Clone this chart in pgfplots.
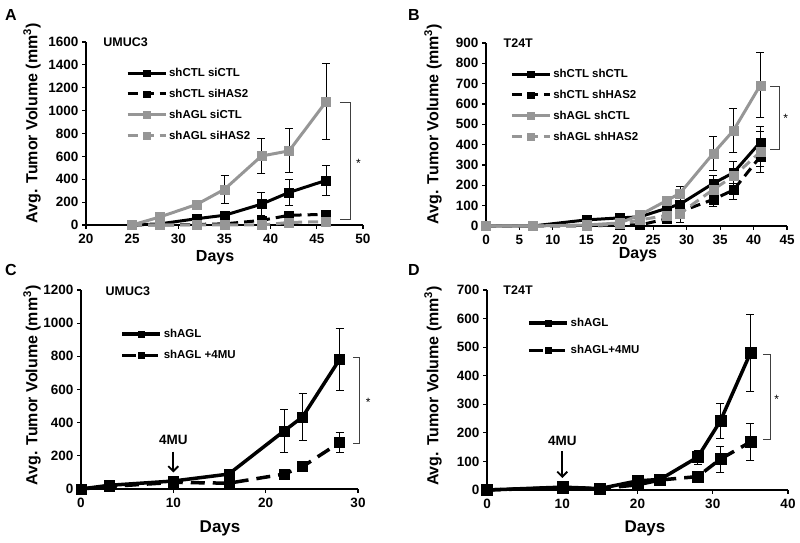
\documentclass[border=0pt]{standalone}
\usepackage{fontspec}
\setmainfont{Liberation Sans}
\usepackage{pgfplots}
\pgfplotsset{compat=1.18}
\usetikzlibrary{arrows.meta}
\definecolor{mygray}{RGB}{150,150,150}

\pgfplotsset{
 panel/.style={scale only axis, anchor=south west,
   axis x line*=bottom, axis y line*=left,
   axis line style={-, line width=1.4pt},
   tick align=outside, major tick length=4pt,
   tick style={line width=1.2pt, black},
   clip=false,
   tick label style={font=\fontsize{13.5}{15}\selectfont\bfseries},
   xticklabel style={yshift=-2pt},
   /pgf/number format/assume math mode=true,
   /pgf/number format/1000 sep={},
   scaled ticks=false,
   label style={font=\fontsize{16}{18}\selectfont\bfseries},
   ylabel={Avg. Tumor Volume (mm\textsuperscript{3})},
   xlabel={Days},
   legend cell align=left,
   legend style={draw=none, fill=none, anchor=north west, inner sep=0pt,
     font=\fontsize{11.5}{13}\selectfont\bfseries, row sep=7pt},
   legend image code/.code={\draw[mark repeat=2, mark phase=2, ##1, mark size=3.2pt] plot coordinates {(0pt,0pt) (19pt,0pt) (38pt,0pt)};},
 },
 eb/.style={error bars/y dir=both, error bars/y explicit,
     error bars/error bar style={line width=0.9pt, black, solid},
     error bars/error mark options={rotate=90, mark size=4pt, line width=0.9pt, black, solid}},
 sq/.style={mark=square*, mark options={solid, line width=0.4pt, line join=miter}},
 bs/.style={eb, black, line width=3pt, line join=round, sq, mark size=4.5pt},
 bd/.style={bs, dash pattern=on 10pt off 6pt},
 gs/.style={eb, mygray, line width=3pt, line join=round, sq, mark size=4.5pt},
 gd/.style={gs, dash pattern=on 10pt off 6pt},
}

\begin{document}
\begin{tikzpicture}[x=1pt,y=1pt]
\useasboundingbox (0,0) rectangle (800,543);

% Panel letters
\node[font=\fontsize{16}{18}\selectfont\bfseries] at (11,528) {A};
\node[font=\fontsize{16}{18}\selectfont\bfseries] at (414,528) {B};
\node[font=\fontsize{16}{18}\selectfont\bfseries] at (11,273) {C};
\node[font=\fontsize{16}{18}\selectfont\bfseries] at (414,273) {D};

% ---------------- A ----------------
\begin{axis}[panel, at={(86pt,318pt)}, width=277pt, height=183pt,
  xmin=20, xmax=50, ymin=0, ymax=1600,
  xtick={20,25,...,50}, ytick={0,200,...,1600},
  xlabel style={at={(axis description cs:0.466,-0.18)}, anchor=center},
  ylabel style={at={(axis description cs:-0.195,0.555)}, anchor=center},
  legend style={at={(axis description cs:0.144,0.869)}}]
\addplot[bs] coordinates {(25,0) +- (0,0) (28,10) +- (0,0) (32,55) +- (0,0) (35,85) +- (0,0) (39,182) +- (0,100) (42,285) +- (0,117) (46,390) +- (0,132)};
\addlegendentry{shCTL siCTL}
\addplot[bd] coordinates {(25,0) +- (0,0) (28,0) +- (0,0) (32,5) +- (0,0) (35,10) +- (0,0) (39,40) +- (0,0) (42,85) +- (0,0) (46,93) +- (0,0)};
\addlegendentry{shCTL siHAS2}
\addplot[gs] coordinates {(25,0) +- (0,0) (28,70) +- (0,0) (32,180) +- (0,0) (35,312) +- (0,123) (39,603) +- (0,152) (42,648) +- (0,192) (46,1078) +- (0,332)};
\addlegendentry{shAGL siCTL}
\addplot[gd] coordinates {(25,0) +- (0,0) (28,0) +- (0,0) (32,0) +- (0,0) (35,0) +- (0,0) (39,0) +- (0,0) (42,22) +- (0,0) (46,30) +- (0,0)};
\addlegendentry{shAGL siHAS2}
\node[anchor=west, font=\fontsize{12.5}{14}\selectfont\bfseries] at (axis description cs:0.05,1.0) {UMUC3};
\draw[line width=0.8pt, black!75] (axis cs:47.5,1070) -- (axis cs:48.6,1070) -- (axis cs:48.6,45) -- (axis cs:47.5,45);
\node[font=\fontsize{12}{14}\selectfont] at (axis cs:49.5,540) {*};
\end{axis}

% ---------------- B ----------------
\begin{axis}[panel, at={(486pt,317pt)}, width=301pt, height=183pt,
  xmin=0, xmax=45, ymin=0, ymax=900,
  xtick={0,5,...,45}, ytick={0,100,...,900},
  xlabel style={at={(axis description cs:0.505,-0.158)}, anchor=center},
  ylabel style={at={(axis description cs:-0.176,0.557)}, anchor=center},
  legend style={at={(axis description cs:0.08,0.869)}}]
\addplot[bs] coordinates {(0,0) +- (0,0) (7,0) +- (0,0) (15,30) +- (0,0) (20,40) +- (0,0) (23,45) +- (0,0) (27,87) +- (0,0) (29,107) +- (0,88) (34,210) +- (0,40) (37,262) +- (0,55) (41,412) +- (0,80)};
\addlegendentry{shCTL shCTL}
\addplot[bd] coordinates {(0,0) +- (0,0) (7,0) +- (0,0) (15,0) +- (0,0) (20,5) +- (0,0) (23,5) +- (0,0) (27,35) +- (0,0) (29,70) +- (0,0) (34,131) +- (0,36) (37,177) +- (0,45) (41,341) +- (0,50)};
\addlegendentry{shCTL shHAS2}
\addplot[gs] coordinates {(0,0) +- (0,0) (7,0) +- (0,0) (15,5) +- (0,0) (20,15) +- (0,0) (23,54) +- (0,0) (27,125) +- (0,0) (29,161) +- (0,0) (34,358) +- (0,83) (37,470) +- (0,107) (41,692) +- (0,160)};
\addlegendentry{shAGL shCTL}
\addplot[gd] coordinates {(0,0) +- (0,0) (7,0) +- (0,0) (15,0) +- (0,0) (20,10) +- (0,0) (23,30) +- (0,0) (27,52) +- (0,0) (29,62) +- (0,0) (34,180) +- (0,0) (37,245) +- (0,0) (41,363) +- (0,100)};
\addlegendentry{shAGL shHAS2}
\node[anchor=west, font=\fontsize{12.5}{14}\selectfont\bfseries] at (axis description cs:0.047,1.0) {T24T};
\draw[line width=0.8pt, black!75] (axis cs:42.5,687) -- (axis cs:43.8,687) -- (axis cs:43.8,376) -- (axis cs:42.5,376);
\node[font=\fontsize{12}{14}\selectfont] at (axis cs:44.8,530) {*};
\end{axis}

% ---------------- C ----------------
\begin{axis}[panel, at={(81pt,54pt)}, width=277pt, height=199pt,
  xmin=0, xmax=30, ymin=0, ymax=1200,
  xtick={0,10,20,30}, ytick={0,200,...,1200},
  label style={font=\fontsize{17}{19}\selectfont\bfseries},
  xlabel style={at={(axis description cs:0.502,-0.196)}, anchor=center},
  ylabel style={at={(axis description cs:-0.177,0.52)}, anchor=center, font=\fontsize{16}{18}\selectfont\bfseries},
  legend style={at={(axis description cs:0.141,0.814)}, row sep=7.5pt}]
\addplot[bs, line width=3.5pt, mark size=5pt] coordinates {(0,0) +- (0,0) (3,22) +- (0,0) (10,48) +- (0,0) (16,90) +- (0,0) (22,350) +- (0,130) (24,435) +- (0,140) (28,781) +- (0,188)};
\addlegendentry{shAGL}
\addplot[bs, line width=3.5pt, mark size=5pt, dash pattern=on 14pt off 8pt] coordinates {(0,0) +- (0,0) (3,15) +- (0,0) (10,40) +- (0,0) (16,35) +- (0,0) (22,90) +- (0,0) (24,135) +- (0,0) (28,280) +- (0,62)};
\addlegendentry{shAGL +4MU}
\node[anchor=west, font=\fontsize{12.5}{14}\selectfont\bfseries] at (axis description cs:0.076,0.995) {UMUC3};
\node[font=\fontsize{13.5}{15}\selectfont\bfseries] at (axis cs:10,295) {4MU};
\draw[line width=1.8pt, -{Straight Barb[length=5pt,width=10pt]}] (axis cs:10,225) -- (axis cs:10,100);
\draw[line width=0.8pt, black!75] (axis cs:29.5,795) -- (axis cs:30.2,795) -- (axis cs:30.2,277) -- (axis cs:29.5,277);
\node[font=\fontsize{12}{14}\selectfont] at (axis cs:31.1,520) {*};
\end{axis}

% ---------------- D ----------------
\begin{axis}[panel, at={(487pt,53pt)}, width=301pt, height=200pt,
  xmin=0, xmax=40, ymin=0, ymax=700,
  xtick={0,10,20,30,40}, ytick={0,100,...,700},
  label style={font=\fontsize{17}{19}\selectfont\bfseries},
  xlabel style={at={(axis description cs:0.525,-0.19)}, anchor=center},
  ylabel style={at={(axis description cs:-0.179,0.52)}, anchor=center, font=\fontsize{16}{18}\selectfont\bfseries},
  legend style={at={(axis description cs:0.133,0.87)}, row sep=13.5pt}]
\addplot[bs, line width=3.5pt, mark size=5.5pt] coordinates {(0,0) +- (0,0) (10,10) +- (0,0) (15,5) +- (0,0) (20,32) +- (0,0) (23,37) +- (0,0) (28,115) +- (0,25) (31,241) +- (0,62) (35,479) +- (0,135)};
\addlegendentry{shAGL}
\addplot[bs, line width=3.5pt, mark size=5.5pt, dash pattern=on 14pt off 8pt] coordinates {(0,0) +- (0,0) (10,8) +- (0,0) (15,5) +- (0,0) (20,18) +- (0,0) (23,35) +- (0,0) (28,47) +- (0,10) (31,108) +- (0,45) (35,168) +- (0,65)};
\addlegendentry{shAGL+4MU}
\node[anchor=west, font=\fontsize{12.5}{14}\selectfont\bfseries] at (axis description cs:0.043,1.0) {T24T};
\node[font=\fontsize{13.5}{15}\selectfont\bfseries] at (axis cs:10,172) {4MU};
\draw[line width=1.8pt, -{Straight Barb[length=5pt,width=10pt]}] (axis cs:10,135) -- (axis cs:10,42);
\draw[line width=0.8pt, black!75] (axis cs:36.7,476) -- (axis cs:37.6,476) -- (axis cs:37.6,178) -- (axis cs:36.7,178);
\node[font=\fontsize{12}{14}\selectfont] at (axis cs:38.5,318) {*};
\end{axis}
\end{tikzpicture}
\end{document}
